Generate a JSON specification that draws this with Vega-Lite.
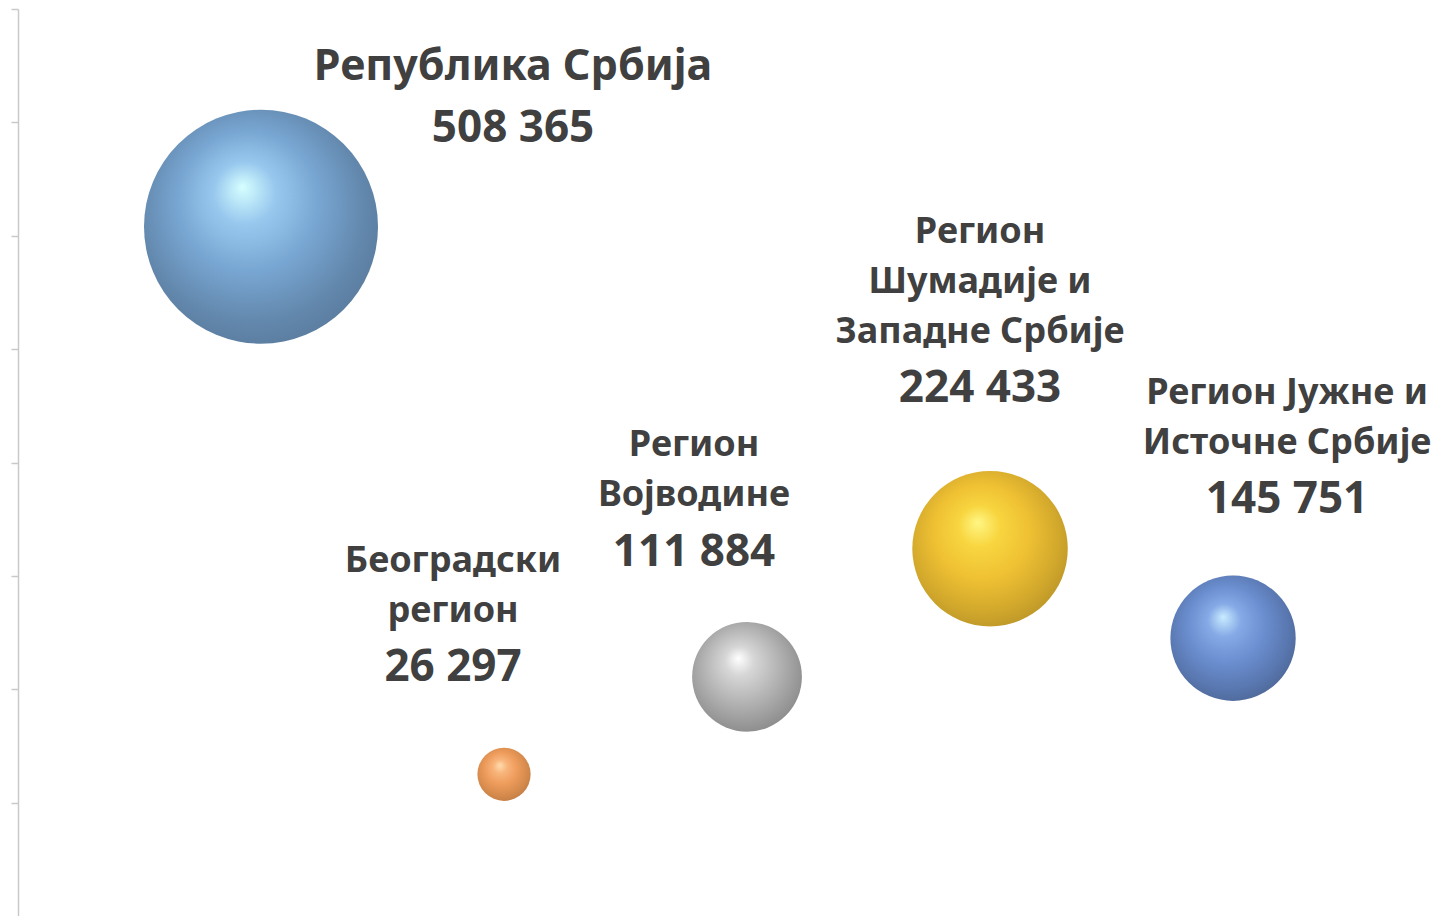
{
  "$schema": "https://vega.github.io/schema/vega-lite/v6.json",
  "autosize": "none",
  "width": 1417,
  "height": 907,
  "padding": {"left": 18, "top": 9, "right": 0, "bottom": 0},
  "background": "#ffffff",
  "config": {"view": {"stroke": null}, "text": {"font": "Noto Sans", "fontWeight": "bold", "color": "#404040"}},
  "data": {"values": [
    {"region": "Република Србија", "label": "Република Србија", "x": 1, "y": 6.08, "value": 508365, "valueText": "508 365"},
    {"region": "Београдски регион", "label": "Београдски\nрегион", "x": 2, "y": 1.25, "value": 26297, "valueText": "26 297"},
    {"region": "Регион Војводине", "label": "Регион\nВојводине", "x": 3, "y": 2.11, "value": 111884, "valueText": "111 884"},
    {"region": "Регион Шумадије и Западне Србије", "label": "Регион\nШумадије и\nЗападне Србије", "x": 4, "y": 3.24, "value": 224433, "valueText": "224 433"},
    {"region": "Регион Јужне и Источне Србије", "label": "Регион Јужне и\nИсточне Србије", "x": 5, "y": 2.45, "value": 145751, "valueText": "145 751"}
  ]},
  "encoding": {
    "x": {"field": "x", "type": "quantitative", "scale": {"domain": [0, 5.831], "nice": false, "zero": false}, "axis": null},
    "y": {"field": "y", "type": "quantitative", "scale": {"domain": [0, 8], "nice": false}, "axis": {"labels": false, "title": null, "grid": false, "values": [1, 2, 3, 4, 5, 6, 7, 8], "tickSize": 7, "tickWidth": 1.5, "tickColor": "#c9c9c9", "domainColor": "#c9c9c9", "domainWidth": 1.5}}
  },
  "layer": [
    {
      "transform": [{"filter": "datum.x == 1"}],
      "mark": {"type": "point", "shape": "circle", "filled": true, "opacity": 1, "strokeWidth": 0,
        "fill": {"gradient": "radial", "x1": 0.42, "y1": 0.33, "r1": 0, "x2": 0.47, "y2": 0.45, "r2": 0.6,
          "stops": [{"offset": 0, "color": "#d6ffff"}, {"offset": 0.22, "color": "#98c8ee"}, {"offset": 0.5, "color": "#78a6d2"}, {"offset": 0.8, "color": "#6388ad"}, {"offset": 1, "color": "#587a9c"}]}},
      "encoding": {"size": {"field": "value", "type": "quantitative", "scale": {"domain": [0, 508365], "range": [0, 54756], "zero": true}, "legend": null}}
    },
    {
      "transform": [{"filter": "datum.x == 2"}],
      "mark": {"type": "point", "shape": "circle", "filled": true, "opacity": 1, "strokeWidth": 0,
        "fill": {"gradient": "radial", "x1": 0.42, "y1": 0.33, "r1": 0, "x2": 0.47, "y2": 0.45, "r2": 0.6,
          "stops": [{"offset": 0, "color": "#ffdcae"}, {"offset": 0.22, "color": "#f8b47a"}, {"offset": 0.5, "color": "#ee9c5c"}, {"offset": 0.8, "color": "#d48a4c"}, {"offset": 1, "color": "#c07a44"}]}},
      "encoding": {"size": {"field": "value", "type": "quantitative", "legend": null}}
    },
    {
      "transform": [{"filter": "datum.x == 3"}],
      "mark": {"type": "point", "shape": "circle", "filled": true, "opacity": 1, "strokeWidth": 0,
        "fill": {"gradient": "radial", "x1": 0.42, "y1": 0.33, "r1": 0, "x2": 0.47, "y2": 0.45, "r2": 0.6,
          "stops": [{"offset": 0, "color": "#ffffff"}, {"offset": 0.22, "color": "#d6d6d6"}, {"offset": 0.5, "color": "#bababa"}, {"offset": 0.8, "color": "#9c9c9c"}, {"offset": 1, "color": "#888888"}]}},
      "encoding": {"size": {"field": "value", "type": "quantitative", "legend": null}}
    },
    {
      "transform": [{"filter": "datum.x == 4"}],
      "mark": {"type": "point", "shape": "circle", "filled": true, "opacity": 1, "strokeWidth": 0,
        "fill": {"gradient": "radial", "x1": 0.42, "y1": 0.33, "r1": 0, "x2": 0.47, "y2": 0.45, "r2": 0.6,
          "stops": [{"offset": 0, "color": "#fff684"}, {"offset": 0.22, "color": "#f8d640"}, {"offset": 0.5, "color": "#efc133"}, {"offset": 0.8, "color": "#d2a82c"}, {"offset": 1, "color": "#b89427"}]}},
      "encoding": {"size": {"field": "value", "type": "quantitative", "legend": null}}
    },
    {
      "transform": [{"filter": "datum.x == 5"}],
      "mark": {"type": "point", "shape": "circle", "filled": true, "opacity": 1, "strokeWidth": 0,
        "fill": {"gradient": "radial", "x1": 0.42, "y1": 0.33, "r1": 0, "x2": 0.47, "y2": 0.45, "r2": 0.6,
          "stops": [{"offset": 0, "color": "#c8ecff"}, {"offset": 0.22, "color": "#86aae6"}, {"offset": 0.5, "color": "#6b8fd0"}, {"offset": 0.8, "color": "#5977b0"}, {"offset": 1, "color": "#4c6694"}]}},
      "encoding": {"size": {"field": "value", "type": "quantitative", "legend": null}}
    },
    {"transform": [{"filter": "datum.x == 1"}], "mark": {"type": "text", "fontSize": 43, "baseline": "middle", "align": "center", "dx": 252, "dy": -160}, "encoding": {"text": {"field": "label"}}},
    {"transform": [{"filter": "datum.x == 1"}], "mark": {"type": "text", "fontSize": 44, "baseline": "middle", "align": "center", "dx": 252, "dy": -98}, "encoding": {"text": {"field": "valueText"}}},
    {"transform": [{"filter": "datum.x == 2"}], "mark": {"type": "text", "fontSize": 36, "lineHeight": 50, "lineBreak": "\n", "baseline": "middle", "align": "center", "dx": -51, "dy": -213}, "encoding": {"text": {"field": "label"}}},
    {"transform": [{"filter": "datum.x == 2"}], "mark": {"type": "text", "fontSize": 44, "baseline": "middle", "align": "center", "dx": -51, "dy": -106}, "encoding": {"text": {"field": "valueText"}}},
    {"transform": [{"filter": "datum.x == 3"}], "mark": {"type": "text", "fontSize": 36, "lineHeight": 50, "lineBreak": "\n", "baseline": "middle", "align": "center", "dx": -53, "dy": -232}, "encoding": {"text": {"field": "label"}}},
    {"transform": [{"filter": "datum.x == 3"}], "mark": {"type": "text", "fontSize": 44, "baseline": "middle", "align": "center", "dx": -53, "dy": -124}, "encoding": {"text": {"field": "valueText"}}},
    {"transform": [{"filter": "datum.x == 4"}], "mark": {"type": "text", "fontSize": 36, "lineHeight": 50, "lineBreak": "\n", "baseline": "middle", "align": "center", "dx": -10, "dy": -317}, "encoding": {"text": {"field": "label"}}},
    {"transform": [{"filter": "datum.x == 4"}], "mark": {"type": "text", "fontSize": 44, "baseline": "middle", "align": "center", "dx": -10, "dy": -160}, "encoding": {"text": {"field": "valueText"}}},
    {"transform": [{"filter": "datum.x == 5"}], "mark": {"type": "text", "fontSize": 36, "lineHeight": 50, "lineBreak": "\n", "baseline": "middle", "align": "center", "dx": 54, "dy": -245}, "encoding": {"text": {"field": "label"}}},
    {"transform": [{"filter": "datum.x == 5"}], "mark": {"type": "text", "fontSize": 44, "baseline": "middle", "align": "center", "dx": 54, "dy": -138}, "encoding": {"text": {"field": "valueText"}}}
  ]
}
